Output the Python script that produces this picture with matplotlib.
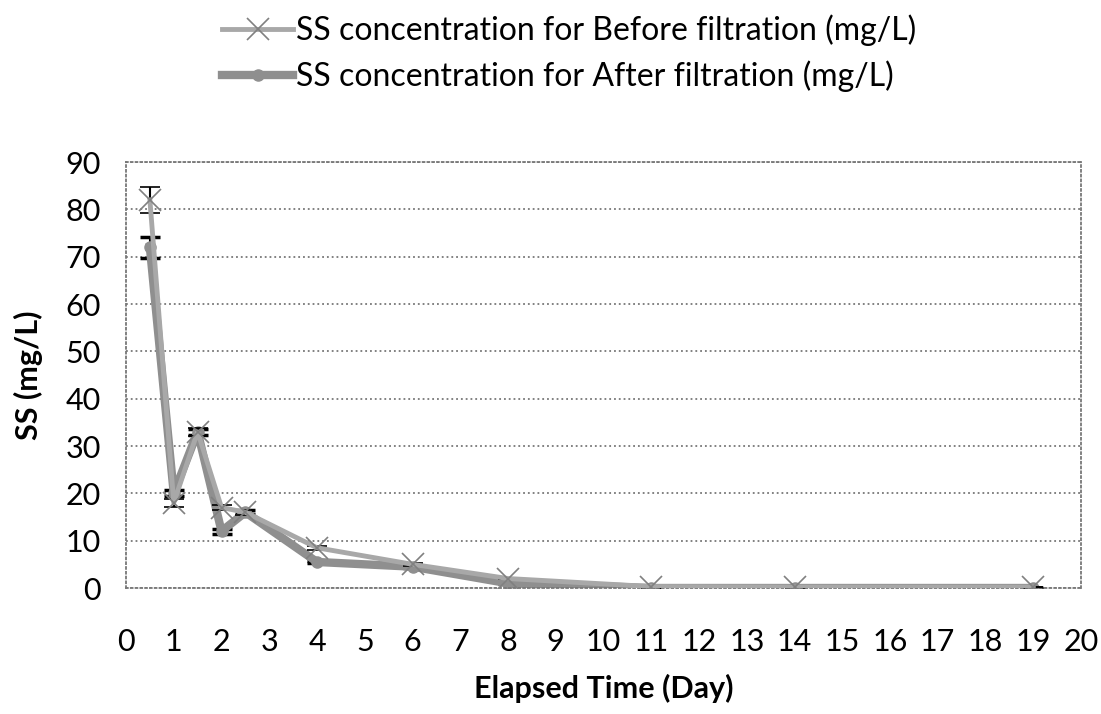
from matplotlib import pyplot as plt
from matplotlib.lines import Line2D
import numpy as np

plt.rcParams['font.family'] = ['Lato', 'DejaVu Sans']

days = [0.5, 1, 1.5, 2, 2.5, 4, 6, 8, 11, 14, 19]
ss_before = [82, 18, 33, 17, 16, 8.5, 5, 2, 0.3, 0.2, 0.2]
ss_after = [72, 20, 33, 12, 16, 5.5, 4.5, 1, 0, 0, 0]
err_before = [2.8, 0.8, 0.8, 0.6, 0.5, 0.4, 0.3, 0.2, 0, 0, 0]
err_after = [2.2, 0.6, 0.6, 0.5, 0.4, 0.3, 0.2, 0.1, 0, 0, 0]

label_before = 'SS concentration for Before filtration (mg/L)'
label_after = 'SS concentration for After filtration (mg/L)'

fig = plt.figure(figsize=(11.01, 7.14), dpi=100)
ax = fig.add_axes([126 / 1101, 126 / 714, 955 / 1101, 426 / 714])

ax.errorbar(days, ss_before, yerr=err_before, color='#a8a8a8', linewidth=3.5,
            marker='x', markersize=16, markeredgewidth=1.2, markeredgecolor='#808080',
            ecolor='black', elinewidth=1.5, capsize=7, capthick=2.5, zorder=3)
ax.errorbar(days, ss_after, yerr=err_after, color='#8f8f8f', linewidth=6,
            marker='o', markersize=8, ecolor='black', elinewidth=1.5,
            capsize=7, capthick=2.5, zorder=2)

ax.set_xlim(0, 20)
ax.set_ylim(0, 90)
ax.set_xticks(np.arange(0, 21, 1))
ax.set_yticks(np.arange(0, 91, 10))
ax.tick_params(length=0, labelsize=22, pad=18)
ax.tick_params(axis='x', pad=29)
ax.grid(True, axis='y', color='#777777', linestyle=':', linewidth=1.3)
for s in ax.spines.values():
    s.set_color('#777777')
    s.set_linestyle(':')
    s.set_linewidth(1.3)

ax.set_xlabel('Elapsed Time (Day)', fontsize=22, fontweight='bold', labelpad=13)
ax.set_ylabel('SS (mg/L)', fontsize=22, fontweight='bold', labelpad=16)

handles = [
    Line2D([], [], color='#a8a8a8', linewidth=3.5, marker='x', markersize=16,
           markeredgewidth=1.2, markeredgecolor='#808080'),
    Line2D([], [], color='#8f8f8f', linewidth=6, marker='o', markersize=8),
]
fig.legend(handles, [label_before, label_after], loc='upper left',
           bbox_to_anchor=(208 / 1101, 1.0), frameon=False, fontsize=23,
           handlelength=2.2, handletextpad=0.1, labelspacing=0.45,
           borderaxespad=0.05)

fig.savefig('out.png', dpi=100)
